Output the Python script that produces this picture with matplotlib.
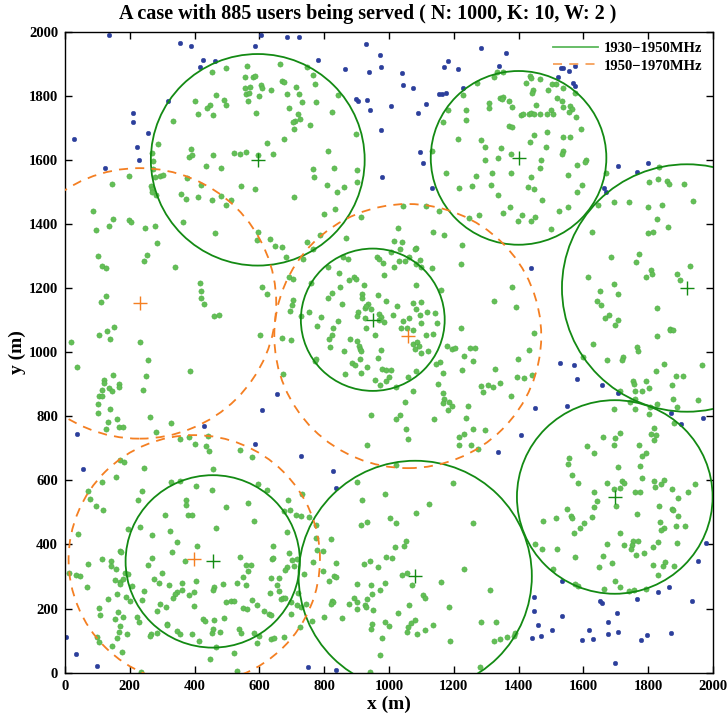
import numpy as np
import matplotlib
matplotlib.use("Agg")
import matplotlib.pyplot as plt
from matplotlib.patches import Circle
from matplotlib.lines import Line2D

plt.rcParams['font.family'] = ['Liberation Serif', 'DejaVu Serif']
plt.rcParams['font.weight'] = 'bold'

title_text = "A case with 885 users being served ( N: 1000, K: 10, W: 2 )"
legend_labels = ["1930\u22121950MHz", "1950\u22121970MHz"]
ticks = [0, 200, 400, 600, 800, 1000, 1200, 1400, 1600, 1800, 2000]

# base stations, band 1 (green, solid)
bs1_x = [595, 1400, 1920, 950, 1697, 1081, 456]
bs1_y = [1600, 1606, 1200, 1101, 548, 301, 347]
bs1_r = [330, 271, 386, 222, 302, 360, 269]
# base stations, band 2 (orange, dashed)
bs2_x = [230, 1058, 399]
bs2_y = [1152, 1050, 353]
bs2_r = [422, 412, 388]

# users not served (x, y pairs)
unserved = [
    136,1988, 355,1965, 389,1956, 427,1911, 462,1909, 417,1890, 317,1784, 210,1745, 209,1718, 28,1666,
    257,1684, 223,1640, 229,1598, 122,1575,
    606,1988, 686,1984, 721,1984, 588,1956, 930,1961, 971,1928, 780,1911, 863,1883, 938,1875, 974,1891,
    899,1791, 904,1785, 932,1788, 941,1754, 976,1692, 979,1545,
    1284,1950, 1361,1934, 1182,1909, 1169,1891, 1214,1884, 1339,1893, 1041,1871, 1043,1834, 1073,1825,
    1155,1806, 1163,1806, 1176,1807, 1228,1823, 1006,1769, 1115,1775, 1091,1746, 1097,1625, 1106,1591, 1134,1512,
    1530,1885, 1538,1885, 1556,1876, 1575,1893, 1522,1859, 1568,1841, 1575,1829, 1706,1580, 1767,1562,
    1800,1590, 1664,1513, 1671,1501,
    36,744, 430,768,
    654,868, 607,818, 585,713, 727,676,
    1437,1262, 1450,825, 1408,742, 1336,688,
    1528,966, 1571,960, 1580,916, 1659,898, 1708,871, 1549,832, 1870,811, 1902,775, 1969,794,
    56,636, 2,110, 33,59, 99,20,
    828,628, 836,577, 751,18, 837,8,
    1447,235, 1447,192, 1460,149, 1468,115, 1441,107,
    1980,404, 1954,347, 1533,287, 1934,225, 1652,222, 1657,216, 1766,229, 1830,250, 1863,266, 1703,186,
    1535,178, 1675,159, 1503,133, 1616,133, 1708,128, 1596,103, 1631,105, 1676,120, 1779,103, 1797,118,
    1872,123, 1699,31,
]

# users served (x, y pairs)
served = [
    455,1875, 467,1801, 401,1784, 490,1786, 448,1771, 439,1761, 410,1744, 457,1741, 332,1722, 286,1649,
    390,1633, 384,1610, 393,1616, 457,1616, 267,1620, 273,1595, 434,1580, 483,1574, 271,1570, 197,1548,
    277,1545, 294,1548, 303,1552, 376,1543, 146,1524, 266,1519, 420,1522, 269,1509, 268,1500, 280,1491,
    359,1494, 374,1479, 409,1484, 455,1474, 483,1488, 86,1441, 147,1415, 197,1413, 205,1405, 135,1392,
    96,1381, 248,1388, 278,1393, 364,1407, 462,1372, 284,1341,
    497,1887, 562,1893, 664,1900, 747,1891, 765,1865, 557,1858, 579,1859, 585,1862, 772,1835, 670,1846,
    677,1843, 604,1833, 608,1824, 555,1824, 572,1828, 637,1818, 714,1827, 559,1804, 568,1808, 600,1799,
    686,1804, 722,1805, 842,1802, 566,1783, 496,1770, 731,1779, 775,1779, 691,1761, 591,1745, 823,1749,
    719,1742, 724,1726, 709,1722, 705,1718, 755,1709, 707,1697, 677,1666, 624,1651, 897,1679, 523,1621,
    540,1619, 559,1624, 597,1614, 641,1619, 813,1626, 765,1571, 829,1575, 900,1568, 769,1546, 902,1532,
    544,1517, 586,1509, 810,1520, 862,1515, 839,1500, 706,1483, 513,1474, 498,1459, 833,1446, 799,1430,
    913,1421, 595,1375, 593,1350, 632,1353, 786,1365, 867,1357, 747,1344,
    1334,1873, 1325,1858, 1353,1873, 1434,1863, 1438,1854, 1465,1852, 1422,1839, 1272,1839, 1444,1819,
    1442,1808, 1490,1819, 1229,1802, 1344,1794, 1352,1795, 1349,1789, 1369,1783, 1310,1776, 1309,1762,
    1379,1765, 1455,1770, 1182,1755, 1238,1754, 1407,1739, 1414,1744, 1433,1743, 1438,1746, 1447,1742,
    1466,1743, 1488,1744, 1168,1718, 1237,1724, 1369,1705, 1379,1701, 1489,1688, 1448,1676, 1212,1664,
    1285,1661, 1434,1657, 1295,1639, 1346,1638, 1486,1640, 1376,1617, 1336,1606, 1296,1600, 1468,1599,
    1466,1575, 1132,1629, 1177,1558, 1317,1560, 1376,1560, 1269,1551, 1439,1547, 1217,1513, 1255,1517,
    1315,1520, 1430,1515, 1449,1510, 1336,1489, 1471,1476, 1374,1453, 1351,1435, 1044,1457, 1113,1457,
    1153,1440, 1247,1419, 1279,1427, 1412,1427, 1452,1420, 1399,1410, 1438,1410, 1027,1387, 1136,1375,
    1169,1365, 1015,1346, 1040,1344,
    1503,1836, 1515,1836, 1538,1823, 1575,1808, 1519,1794, 1535,1782, 1538,1766, 1558,1768, 1565,1760,
    1556,1749, 1577,1735, 1499,1754, 1505,1744, 1594,1697, 1537,1670, 1559,1672, 1536,1626, 1534,1618,
    1609,1598, 1605,1594, 1579,1584, 1669,1558, 1552,1552, 1595,1520, 1580,1501, 1832,1576, 1829,1540,
    1803,1532, 1858,1533, 1864,1524, 1910,1526, 1525,1440, 1552,1453, 1645,1459, 1694,1467, 1742,1467,
    1801,1454, 1844,1458, 1937,1472, 1827,1416, 1862,1390, 1499,1383, 1628,1376, 1799,1372, 1816,1374,
    103,1300, 252,1303, 244,1285, 113,1269, 125,1261, 341,1265, 417,1217, 420,1190, 421,1169, 430,1150,
    126,1175, 112,1156, 460,1112, 476,1115, 152,1077, 131,1066, 105,1054, 139,1042, 20,1031, 231,1031,
    256,975, 37,952, 386,940, 147,929, 249,925, 119,913, 119,905, 167,900, 168,892, 137,887,
    144,880, 114,881, 241,883, 106,864, 113,862, 103,837, 139,823, 102,811, 261,797, 132,782,
    159,791, 326,779, 125,761, 166,766, 178,766, 282,752, 356,730, 383,736, 402,714, 434,708,
    441,737, 446,693,
    647,1330, 671,1329, 764,1321, 683,1298, 735,1290, 858,1296, 872,1290, 963,1298, 968,1291, 982,1278,
    811,1265, 846,1247, 984,1242, 691,1235, 704,1228, 877,1225, 891,1234, 897,1229, 758,1216, 607,1203,
    848,1204, 922,1208, 622,1181, 823,1183, 812,1168, 918,1181, 917,1170, 965,1179, 705,1163, 700,1147,
    694,1128, 855,1149, 925,1139, 934,1150, 930,1145, 946,1135, 992,1160, 904,1125, 900,1114, 727,1112,
    752,1125, 790,1108, 842,1097, 925,1105, 969,1118, 974,1109, 970,1100, 984,1095, 778,1080, 828,1076,
    929,1076, 603,1052, 670,1045, 697,1038, 823,1052, 814,1040, 879,1040, 901,1035, 958,1054, 909,1018,
    912,1009, 913,1003, 819,1017, 861,1003, 976,1006, 776,979, 772,973, 912,980, 965,982, 887,967,
    894,959, 931,954, 977,948, 990,944, 864,933, 914,935, 956,914, 971,896, 991,909, 673,933,
    944,803, 933,711, 540,695, 576,674,
    1226,1335, 1082,1326, 1080,1321, 1033,1322, 1005,1312, 1063,1298, 1031,1283, 1048,1285, 1095,1288, 1083,1274,
    1099,1264, 1015,1264, 1132,1263, 1222,1274, 1082,1208, 1161,1193, 1379,1204, 1324,1161, 1393,1142, 1025,1144,
    1074,1153, 1098,1156, 1083,1136, 1013,1115, 1062,1105, 1116,1126, 1097,1115, 1143,1122, 1043,1097, 1098,1091,
    1148,1091, 1036,1075, 1056,1075, 1074,1068, 1114,1053, 1135,1057, 1221,1075, 1447,1061, 1074,1026, 1087,1031,
    1093,1018, 1079,1009, 1099,998, 1120,1003, 1178,1020, 1196,1009, 1204,1012, 1251,1014, 1267,1014, 1432,1006,
    1231,987, 1260,972, 1399,979, 1156,969, 1145,962, 1007,944, 1083,940, 1166,935, 1226,945, 1327,948,
    1440,929, 1394,922, 1416,919, 1000,922, 1058,921, 1342,905, 1151,900, 1021,890, 1075,880, 1167,872,
    1285,893, 1306,898, 1321,891, 1289,874, 1377,864, 1171,854, 1166,841, 1186,844, 1195,831, 1182,819,
    1049,845, 1244,832, 1034,803, 1021,792, 1139,792, 1239,794, 1053,761, 1059,730, 1259,761, 1297,757,
    1231,744, 1215,736, 1217,710, 1253,711, 1274,698,
    1686,1296, 1772,1307, 1763,1281, 1930,1268, 1810,1257, 1811,1244, 1792,1234, 1889,1244, 1897,1226, 1615,1234,
    1696,1214, 1706,1182, 1650,1191, 1642,1161, 1656,1146, 1680,1117, 1666,1105, 1707,1100, 1697,1086, 1826,1137,
    1866,1073, 1868,1068, 1876,1068, 1828,1050, 1631,1026, 1765,1017, 1768,1005, 1600,985, 1722,986, 1718,976,
    1673,976, 1850,964, 1965,960, 1824,942, 1886,926, 1909,926, 1753,909, 1757,900, 1792,909, 1873,897,
    1714,879, 1760,880, 1780,879, 1803,888, 1759,854, 1744,844, 1876,854, 1955,852, 1828,839, 1807,829,
    1889,829, 1694,824, 1759,823, 1802,806, 1879,778, 1819,763, 1809,744, 1824,741, 1662,736, 1699,733,
    1713,747, 1818,725, 1611,708, 1695,710, 1772,710, 1634,685, 1792,684, 1780,676, 1555,670,
    170,664, 182,658, 244,637, 157,611, 113,594, 72,568, 78,542, 326,594, 355,597, 405,582,
    454,571, 458,636, 237,566, 226,538, 373,539, 374,524, 96,519, 116,506, 310,492, 381,492,
    391,492, 193,447, 230,455, 325,443, 467,451, 39,433, 268,428, 346,409, 406,396, 170,381,
    172,376, 330,376, 113,353, 142,349, 270,358, 72,340, 141,334, 256,337, 369,349, 156,324,
    184,311, 195,307, 300,311, 12,312, 34,304, 47,301, 155,288, 170,283, 178,292, 171,277,
    274,292, 290,279, 320,273, 362,281, 403,286, 459,266, 456,258, 489,276, 67,266, 208,270,
    245,254, 347,250, 340,244, 332,232, 360,258, 383,242, 398,252, 161,246, 188,237, 132,231,
    202,223, 238,227, 294,214, 311,206, 397,207, 105,202, 108,181, 163,190, 178,174, 283,192,
    426,167, 432,162, 153,166, 222,173, 227,157, 314,153, 314,148, 460,165, 170,145, 166,126,
    192,121, 265,121, 263,113, 285,125, 347,131, 356,119, 392,121, 413,100, 455,123, 479,126,
    456,135, 161,108, 99,112, 105,97, 146,82, 175,64, 467,80, 448,42, 234,3, 490,171,
    597,587, 623,570, 730,558, 498,516, 565,529, 688,538, 901,595, 917,540, 988,556, 676,504,
    693,506, 713,491, 728,490, 752,487, 582,473, 776,461, 913,460, 931,470, 685,439, 821,418,
    776,419, 643,395, 779,383, 797,381, 541,361, 691,372, 640,353, 643,357, 558,337, 573,337,
    700,352, 715,354, 706,332, 686,329, 678,321, 566,316, 766,346, 837,342, 924,338, 942,349,
    965,330, 992,361, 737,309, 796,316, 549,297, 636,296, 661,296, 530,280, 560,274, 653,272,
    830,303, 835,299, 815,285, 661,254, 633,247, 720,248, 668,229, 673,233, 680,233, 497,220,
    512,225, 523,222, 578,226, 592,210, 697,220, 715,212, 745,215, 727,204, 824,225, 827,220,
    821,215, 902,277, 943,273, 971,257, 989,279, 893,233, 947,246, 933,231, 900,220, 876,214,
    927,212, 930,206, 950,196, 900,197, 548,201, 562,197, 615,191, 631,183, 635,181, 699,183,
    762,160, 798,172, 855,171, 948,153, 946,135, 989,158, 537,136, 542,125, 583,124, 600,113,
    592,92, 637,106, 644,109, 676,111, 726,143, 977,109, 521,60, 972,54, 530,4, 942,2,
    1021,648, 1198,592, 1125,525, 1084,498, 1003,483, 1023,466, 1260,467, 1054,412, 1047,396, 1020,391,
    1008,357, 1476,474, 1451,402, 1473,386, 1232,324, 1056,311, 1040,304, 1071,272, 1162,282, 1311,259,
    1106,242, 1111,233, 1062,212, 1185,204, 1027,186, 1081,165, 1068,156, 1060,143, 1055,128, 1001,147,
    1135,148, 1112,133, 1088,121, 1285,159, 1329,157, 1324,100, 1342,105, 1364,110, 1387,113, 1388,124,
    1187,99, 1281,17,
    1554,652, 1564,616, 1583,592, 1708,640, 1776,645, 1672,592, 1720,598, 1727,593, 1781,606, 1819,597,
    1850,601, 1841,587, 1821,578, 1696,574, 1713,577, 1945,590, 1873,572, 1634,564, 1758,564, 1775,564,
    1924,565, 1892,544, 1642,535, 1701,521, 1634,516, 1551,511, 1833,521, 1874,511, 1876,506, 1563,489,
    1565,483, 1515,483, 1628,485, 1892,488, 1767,496, 1836,471, 1602,468, 1590,450, 1848,452, 1841,446,
    1886,459, 1913,456, 1571,437, 1714,436, 1753,410, 1770,411, 1750,398, 1747,387, 1674,400, 1725,399,
    1829,406, 1888,403, 1814,391, 1518,386, 1787,374, 1762,366, 1661,365, 1574,361, 1689,341, 1648,329,
    1814,337, 1847,332, 1853,346, 1880,333, 1505,323, 1831,304, 1697,286, 1573,277, 1582,269, 1712,266,
    1664,262, 1755,259, 1742,254, 1793,262,
]

srv = np.array(served, dtype=float).reshape(-1, 2)
uns = np.array(unserved, dtype=float).reshape(-1, 2)

GREEN_PT = '#63bf56'
GREEN_EDGE = '#4fae46'
BLUE_PT = '#2c3f9c'
GREEN_LN = '#138a13'
ORANGE_LN = '#f47f22'

fig = plt.figure(figsize=(7.28, 7.18), dpi=100)
ax = fig.add_axes([0.0893, 0.0632, 0.8900, 0.8928])

ax.scatter(srv[:, 0], srv[:, 1], s=14, c=GREEN_PT, edgecolors=GREEN_EDGE, linewidths=0.4, zorder=2)
ax.scatter(uns[:, 0], uns[:, 1], s=11, c=BLUE_PT, edgecolors=BLUE_PT, linewidths=0.3, zorder=2)

for x, y, r in zip(bs1_x, bs1_y, bs1_r):
    ax.add_patch(Circle((x, y), r, fill=False, edgecolor=GREEN_LN, lw=1.3, zorder=3))
for x, y, r in zip(bs2_x, bs2_y, bs2_r):
    ax.add_patch(Circle((x, y), r, fill=False, edgecolor=ORANGE_LN, lw=1.3,
                        linestyle=(0, (5, 4)), zorder=3))
ax.plot(bs1_x, bs1_y, '+', color=GREEN_LN, ms=10, mew=1.0, zorder=4)
ax.plot(bs2_x, bs2_y, '+', color=ORANGE_LN, ms=10, mew=1.0, zorder=4)

ax.set_xlim(0, 2000)
ax.set_ylim(0, 2000)
ax.set_aspect('auto')
ax.set_xticks(ticks)
ax.set_yticks(ticks)
ax.tick_params(direction='in', top=True, right=True, length=5, width=1.0, labelsize=10.5, pad=5)
for lab in ax.get_xticklabels() + ax.get_yticklabels():
    lab.set_fontweight('bold')
for sp in ax.spines.values():
    sp.set_linewidth(1.0)

ax.set_xlabel('x (m)', fontsize=14, fontweight='bold', labelpad=2)
ax.set_ylabel('y (m)', fontsize=14, fontweight='bold', labelpad=2)
fig.text(0.505, 0.981, title_text, fontsize=14.5, fontweight='bold', ha='center', va='center')

handles = [Line2D([0], [0], color='#5cb85c', lw=1.3),
           Line2D([0], [0], color='#f6a05a', lw=1.3, linestyle=(0, (5, 4)))]
ax.legend(handles, legend_labels, loc='upper right', frameon=False,
          handlelength=3.1, handletextpad=0.4, borderaxespad=0.3, labelspacing=0.3,
          prop={'weight': 'bold', 'size': 10.5})

fig.savefig('out.png', dpi=100)
